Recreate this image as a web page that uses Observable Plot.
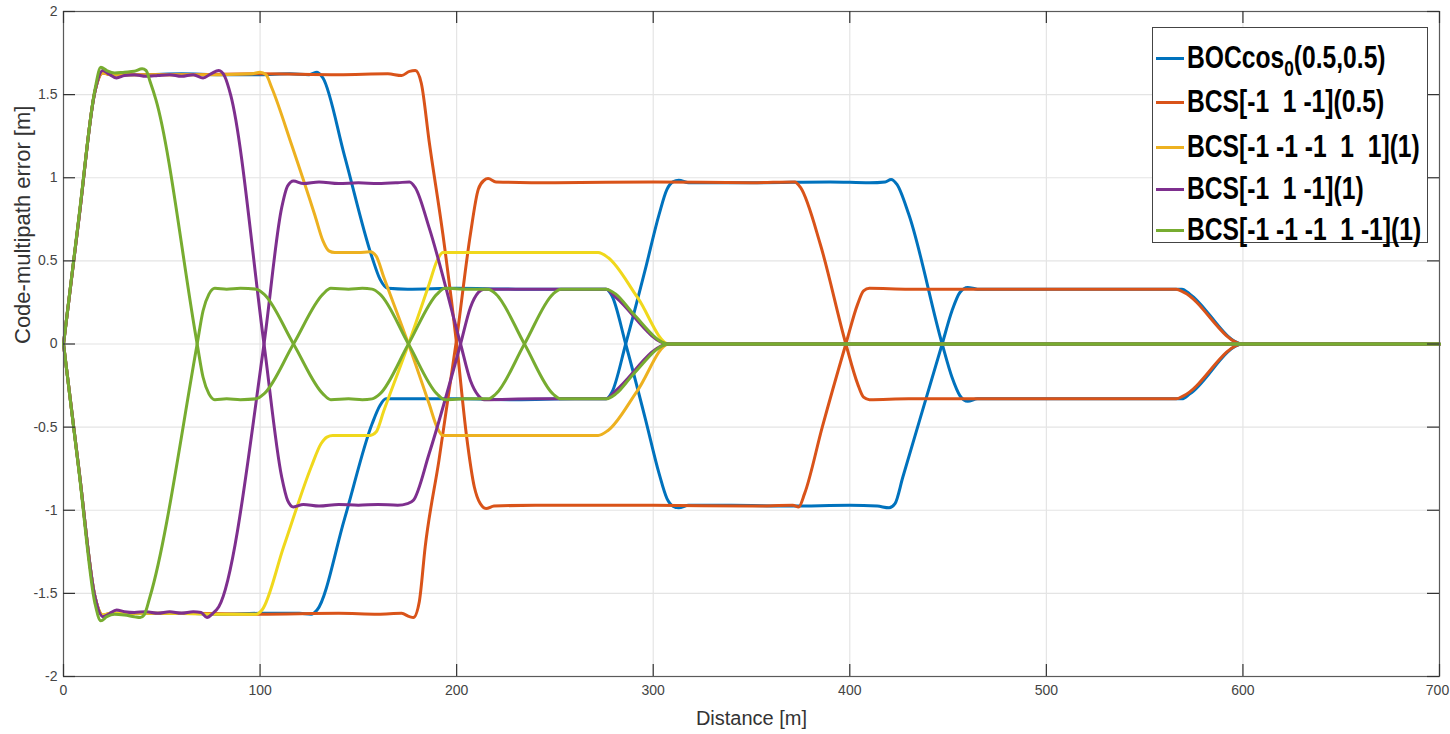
<!DOCTYPE html>
<html>
<head>
<meta charset="utf-8">
<script src="https://cdn.jsdelivr.net/npm/d3@7"></script>
<script src="https://cdn.jsdelivr.net/npm/@observablehq/plot@0.6"></script>
<style>
  html, body { margin: 0; padding: 0; background: #fff; }
  #wrap { position: relative; width: 1450px; height: 734px; overflow: hidden; }
  #legend { position: absolute; left: 1152px; top: 27px; width: 276px; height: 216px;
            border: 1px solid #444; background: #fff; box-sizing: border-box; }
  .row { position: absolute; left: 0; height: 40px; width: 380px; }
  .swatch { position: absolute; left: 3px; top: 20px; width: 28px; height: 3px; }
  .lab { position: absolute; left: 34px; top: 0; line-height: 40px; white-space: pre;
         font-family: "Liberation Sans", Arial, sans-serif; font-weight: bold; font-size: 32px;
         color: #000; transform: scaleX(0.77); transform-origin: left center; }
  .lab sub { font-size: 0.7em; vertical-align: -0.35em; }
</style>
</head>
<body>
<div id="wrap"><div id="legend"></div></div>
<script>
// ---- data ----
const xTicks = [0, 100, 200, 300, 400, 500, 600, 700];
const yTicks = [-2, -1.5, -1, -0.5, 0, 0.5, 1, 1.5, 2];

const legendLabels = ["BOCcos<sub>0</sub>(0.5,0.5)", "BCS[-1  1 -1](0.5)", "BCS[-1 -1 -1  1  1](1)", "BCS[-1  1 -1](1)", "BCS[-1 -1 -1  1 -1](1)"];
const seriesColors = ["#0072BD", "#D95319", "#EDB120", "#7E2F8E", "#77AC30"];
const yellowLowerColor = "#F0D81C";

const bocUpper = [[0,0],[8,0.77],[16,1.52],[20,1.635],[24,1.62],[40,1.62],[60,1.625],[80,1.62],[100,1.62],[115,1.625],[125,1.62],[129,1.635],[132,1.6],[143,1.13],[157,0.52],[161,0.39],[165,0.335],[175,0.33],[200,0.335],[230,0.33],[260,0.33],[276,0.33],[279,0.29],[286,0],[296,-0.45],[303,-0.78],[307,-0.93],[310,-0.975],[313,-0.985],[318,-0.97],[340,-0.97],[370,-0.975],[400,-0.97],[414,-0.975],[420,-0.985],[423,-0.96],[427,-0.8],[447,0],[452,0.2],[456,0.31],[460,0.34],[465,0.33],[520,0.33],[569,0.33],[573,0.3],[600,0],[700,0]];
const bocLower = [[0,0],[8,-0.77],[16,-1.52],[20,-1.635],[24,-1.62],[40,-1.62],[60,-1.62],[80,-1.625],[100,-1.62],[120,-1.62],[126,-1.625],[129,-1.6],[143,-1.05],[157,-0.48],[161,-0.37],[164,-0.33],[175,-0.33],[200,-0.33],[230,-0.335],[260,-0.33],[276,-0.33],[279,-0.29],[286,0],[296,0.45],[303,0.78],[307,0.93],[310,0.975],[313,0.985],[318,0.97],[350,0.97],[390,0.975],[410,0.97],[418,0.975],[421,0.99],[424,0.96],[430,0.78],[447,0],[452,-0.2],[456,-0.31],[460,-0.345],[465,-0.33],[520,-0.33],[569,-0.33],[573,-0.3],[600,0],[700,0]];

const bcs05Upper = [[0,0],[8,0.77],[16,1.52],[20,1.63],[24,1.62],[60,1.62],[100,1.625],[140,1.62],[165,1.625],[172,1.615],[176,1.64],[179,1.645],[182,1.57],[186,1.22],[193,0.66],[200,0],[205,-0.55],[209,-0.86],[212,-0.96],[215,-0.99],[219,-0.975],[240,-0.97],[300,-0.97],[350,-0.975],[371,-0.97],[374,-0.98],[377,-0.9],[386,-0.5],[398,0],[404,0.24],[407,0.32],[410,0.335],[430,0.33],[500,0.33],[566,0.33],[570,0.31],[600,0],[700,0]];
const bcs05Lower = [[0,0],[8,-0.77],[16,-1.52],[20,-1.63],[24,-1.62],[60,-1.62],[100,-1.625],[140,-1.62],[160,-1.625],[172,-1.62],[176,-1.64],[178,-1.645],[181,-1.55],[184,-1.22],[191,-0.7],[200,0.03],[207,0.66],[211,0.93],[214,0.985],[216,0.995],[220,0.975],[250,0.97],[300,0.975],[350,0.97],[372,0.975],[375,0.94],[385,0.6],[398,0],[404,-0.24],[407,-0.32],[410,-0.335],[430,-0.33],[500,-0.33],[566,-0.33],[570,-0.31],[600,0],[700,0]];

const bcs5Upper = [[0,0],[8,0.77],[16,1.52],[20,1.63],[24,1.62],[50,1.62],[80,1.62],[96,1.625],[100,1.635],[103,1.62],[106,1.54],[116,1.2],[128,0.77],[132,0.62],[135,0.56],[138,0.55],[150,0.55],[156,0.555],[159,0.53],[163,0.4],[175.5,0],[186,-0.36],[190,-0.5],[193,-0.55],[200,-0.55],[240,-0.55],[272,-0.55],[277,-0.52],[292,-0.28],[308,0],[700,0]];
const bcs5Lower = [[0,0],[8,-0.77],[16,-1.52],[20,-1.63],[24,-1.62],[50,-1.62],[80,-1.625],[98,-1.625],[101,-1.6],[112,-1.22],[126,-0.74],[131,-0.6],[134,-0.56],[137,-0.55],[150,-0.55],[156,-0.55],[159,-0.53],[163,-0.4],[175.5,0],[186,0.36],[190,0.5],[193,0.55],[200,0.55],[240,0.55],[272,0.55],[277,0.52],[292,0.28],[308,0],[700,0]];

const bcs3Upper = [[0,0],[8,0.77],[16,1.52],[20,1.645],[23,1.625],[27,1.6],[31,1.615],[36,1.62],[42,1.61],[48,1.615],[54,1.62],[60,1.61],[66,1.62],[71,1.6],[75,1.625],[79,1.645],[82,1.61],[85,1.5],[102,0],[111,-0.8],[114,-0.94],[117,-0.98],[122,-0.965],[130,-0.975],[140,-0.965],[150,-0.97],[160,-0.965],[170,-0.97],[175,-0.96],[178,-0.94],[186,-0.66],[202,0],[207,0.22],[211,0.31],[214,0.33],[240,0.33],[276,0.33],[281,0.28],[308,0],[700,0]];
const bcs3Lower = [[0,0],[8,-0.77],[16,-1.52],[20,-1.64],[23,-1.625],[27,-1.6],[31,-1.61],[36,-1.615],[42,-1.61],[48,-1.62],[54,-1.61],[60,-1.62],[66,-1.61],[70,-1.615],[73,-1.645],[76,-1.62],[79,-1.58],[102,0],[111,0.82],[114,0.95],[117,0.98],[122,0.965],[130,0.975],[140,0.965],[150,0.97],[160,0.965],[170,0.97],[176,0.975],[179,0.94],[186,0.7],[202,0],[207,-0.22],[211,-0.31],[214,-0.335],[240,-0.33],[276,-0.33],[281,-0.28],[308,0],[700,0]];

const bcs5bUpper = [[0,0],[8,0.78],[16,1.53],[19,1.665],[22,1.645],[26,1.63],[31,1.635],[36,1.64],[40,1.655],[42,1.645],[44,1.58],[47,1.47],[68,0],[71,-0.2],[74,-0.3],[77,-0.335],[83,-0.33],[90,-0.335],[98,-0.33],[102,-0.3],[117,0],[132,0.3],[136,0.335],[145,0.33],[152,0.335],[157,0.33],[161,0.3],[175.5,0],[190,-0.3],[194,-0.335],[205,-0.33],[216,-0.33],[220,-0.3],[234.5,0],[249,0.3],[253,0.33],[265,0.33],[276,0.33],[281,0.3],[290,0.18],[308,0],[700,0]];
const bcs5bLower = [[0,0],[8,-0.78],[16,-1.56],[19,-1.665],[22,-1.64],[26,-1.625],[31,-1.63],[36,-1.64],[39,-1.645],[41,-1.63],[44,-1.52],[68,0],[71,0.2],[74,0.3],[77,0.335],[83,0.33],[90,0.335],[98,0.33],[102,0.3],[117,0],[132,-0.3],[136,-0.335],[145,-0.33],[152,-0.335],[157,-0.33],[161,-0.3],[175.5,0],[190,0.3],[194,0.335],[205,0.33],[216,0.33],[220,0.3],[234.5,0],[249,-0.3],[253,-0.33],[265,-0.33],[276,-0.33],[281,-0.3],[290,-0.18],[308,0],[700,0]];

// ---- chart ----
const W = 1450, H = 734, mL = 63, mR = 11, mT = 11, mB = 58;
const pw = W - mL - mR, ph = H - mT - mB;

const curves = [
  [bocUpper, seriesColors[0]], [bocLower, seriesColors[0]],
  [bcs05Upper, seriesColors[1]], [bcs05Lower, seriesColors[1]],
  [bcs5Upper, seriesColors[2]], [bcs5Lower, yellowLowerColor],
  [bcs3Upper, seriesColors[3]], [bcs3Lower, seriesColors[3]],
  [bcs5bUpper, seriesColors[4]], [bcs5bLower, seriesColors[4]]
];

const fmt = d => String(d);
const axisFont = "'Liberation Sans', Arial, sans-serif";

const chart = Plot.plot({
  width: W, height: H,
  marginLeft: mL, marginRight: mR, marginTop: mT, marginBottom: mB,
  x: {domain: [0, 700], label: null},
  y: {domain: [-2, 2], label: null},
  style: {fontFamily: axisFont, fontSize: "14px", background: "#fff", color: "#444"},
  marks: [
    Plot.gridX(xTicks, {stroke: "#e4e4e4", strokeOpacity: 1, strokeWidth: 1.2}),
    Plot.gridY(yTicks, {stroke: "#e4e4e4", strokeOpacity: 1, strokeWidth: 1.2}),
    ...curves.map(([pts, c]) => Plot.line(pts, {x: d => d[0], y: d => d[1], stroke: c, strokeWidth: 3, curve: "monotone-x", strokeLinejoin: "round"})),
    Plot.frame({stroke: "#5a5a5a", strokeWidth: 1.2}),
    Plot.tickX(xTicks, {x: d => d, insetTop: ph - 12, stroke: "#333", strokeWidth: 1.2}),
    Plot.tickX(xTicks, {x: d => d, insetBottom: ph - 12, stroke: "#333", strokeWidth: 1.2}),
    Plot.tickY(yTicks, {y: d => d, insetRight: pw - 12, stroke: "#333", strokeWidth: 1.2}),
    Plot.tickY(yTicks, {y: d => d, insetLeft: pw - 12, stroke: "#333", strokeWidth: 1.2}),
    Plot.axisX(xTicks.slice(0, -1), {anchor: "bottom", tickSize: 0, tickPadding: 9, tickFormat: fmt, label: null, color: "#444", fontSize: 14}),
    Plot.axisX(xTicks.slice(-1), {anchor: "bottom", tickSize: 0, tickPadding: 9, tickFormat: fmt, label: null, color: "#444", fontSize: 14, dx: -2}),
    Plot.axisY(yTicks, {anchor: "left", tickSize: 0, tickPadding: 6, tickFormat: fmt, label: null, color: "#444", fontSize: 14}),
    Plot.text(["Distance [m]"], {frameAnchor: "bottom", dy: 42, text: d => d, fontSize: 20, fill: "#333", lineAnchor: "middle"}),
    Plot.text(["Code-multipath error [m]"], {frameAnchor: "left", dx: -41, rotate: -90, text: d => d, fontSize: 22, fill: "#333", lineAnchor: "middle"})
  ]
});
document.getElementById("wrap").prepend(chart);

// ---- legend ----
const rowCenters = [57, 101, 146, 188, 229];
const legend = document.getElementById("legend");
legendLabels.forEach((lab, i) => {
  const row = document.createElement("div");
  row.className = "row";
  row.style.top = (rowCenters[i] - 27 - 1 - 20) + "px";
  const sw = document.createElement("span");
  sw.className = "swatch";
  sw.style.background = seriesColors[i];
  const tx = document.createElement("span");
  tx.className = "lab";
  tx.innerHTML = lab;
  row.appendChild(sw); row.appendChild(tx);
  legend.appendChild(row);
});
</script>
</body>
</html>
